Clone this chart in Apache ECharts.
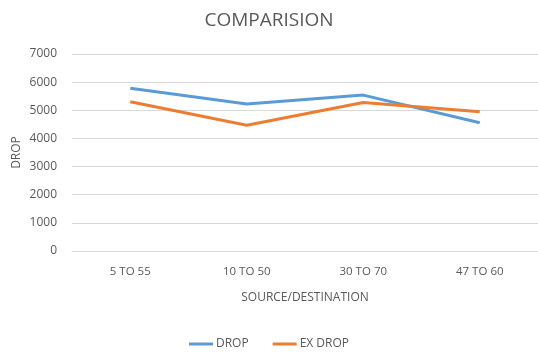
<!DOCTYPE html>
<html>
<head>
<meta charset="utf-8">
<script src="https://cdn.jsdelivr.net/npm/echarts@6/dist/echarts.min.js"></script>
<style>
  html, body { margin: 0; padding: 0; background: #fff; overflow: hidden; }
  #chart { width: 538px; height: 352px; }
</style>
</head>
<body>
<div id="chart"></div>
<script>
// Route categories and the two measured series
const categories = ['5 TO 55', '10 TO 50', '30 TO 70', '47 TO 60'];
const dropValues = [5780, 5220, 5540, 4555];
const exDropValues = [5300, 4470, 5280, 4950];
const yTicks = [0, 1000, 2000, 3000, 4000, 5000, 6000, 7000];

const FONT = '"Open Sans", "Liberation Sans", sans-serif';
const TEXT = '#595959';

const chart = echarts.init(document.getElementById('chart'), null, { renderer: 'canvas' });

chart.setOption({
  animation: false,
  backgroundColor: '#ffffff',
  title: {
    text: 'COMPARISION',
    left: 'center',
    top: 6,
    textStyle: { fontFamily: FONT, fontSize: 19, fontWeight: 'normal', color: TEXT }
  },
  legend: {
    bottom: 2,
    left: 'center',
    padding: 0,
    itemWidth: 24,
    itemHeight: 3,
    itemGap: 24,
    icon: 'rect',
    textStyle: { fontFamily: FONT, fontSize: 12, color: TEXT, padding: [0, 0, 0, -2] },
    data: ['DROP', 'EX DROP']
  },
  grid: {
    left: 72,
    top: 54,
    width: 472,
    height: 197,
    containLabel: false
  },
  xAxis: {
    type: 'category',
    data: categories,
    boundaryGap: true,
    name: 'SOURCE/DESTINATION',
    nameLocation: 'middle',
    nameGap: 41,
    nameMoveOverlap: false,
    nameTextStyle: { fontFamily: FONT, fontSize: 12, color: TEXT },
    axisLine: { show: true, lineStyle: { color: '#d9d9d9', width: 1 } },
    axisTick: { show: false },
    axisLabel: { fontFamily: FONT, fontSize: 11.5, color: TEXT, margin: 15 }
  },
  yAxis: {
    type: 'value',
    min: yTicks[0],
    max: yTicks[yTicks.length - 1],
    interval: 1000,
    name: 'DROP',
    nameLocation: 'middle',
    nameGap: 49,
    nameMoveOverlap: false,
    nameRotate: 90,
    nameTextStyle: { fontFamily: FONT, fontSize: 12, color: TEXT },
    axisLine: { show: false },
    axisTick: { show: false },
    axisLabel: {
      fontFamily: FONT, fontSize: 12, color: TEXT, margin: 15,
      formatter: (v) => String(v)
    },
    splitLine: { lineStyle: { color: '#d9d9d9', width: 1 } }
  },
  series: [
    {
      name: 'DROP',
      type: 'line',
      data: dropValues,
      symbol: 'none',
      color: '#5B9BD5',
      lineStyle: { width: 3, color: '#5B9BD5' }
    },
    {
      name: 'EX DROP',
      type: 'line',
      data: exDropValues,
      symbol: 'none',
      color: '#ED7D31',
      lineStyle: { width: 3, color: '#ED7D31' }
    }
  ]
});
</script>
</body>
</html>
